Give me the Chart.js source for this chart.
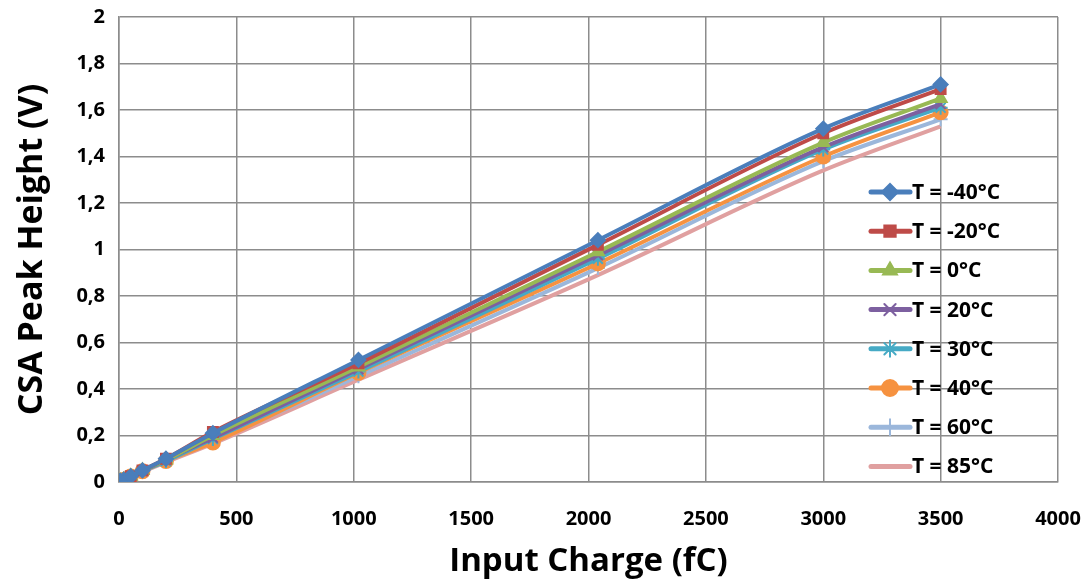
<!DOCTYPE html>
<html>
<head>
<meta charset="utf-8">
<title>CSA Peak Height vs Input Charge</title>
<script src="https://cdn.jsdelivr.net/npm/chart.js@4/dist/chart.umd.min.js"></script>
<style>
    html, body { margin: 0; padding: 0; background: #fff; }
    #chartWrap { width: 1089px; height: 585px; position: relative; }
</style>
</head>
<body>
<div id="chartWrap"><canvas id="peakChart"></canvas></div>
<script>
// Input charge values (fC)
const inputCharge = [5, 20, 50, 100, 200, 400, 1020, 2040, 3000, 3500];

// Series labels
const tempLabels = ['T = -40°C', 'T = -20°C', 'T = 0°C', 'T = 20°C', 'T = 30°C', 'T = 40°C', 'T = 60°C', 'T = 85°C'];

// CSA peak height (V) per temperature
const peakM40 = [0.005, 0.01, 0.025, 0.05, 0.10, 0.21, 0.525, 1.04, 1.52, 1.71];
const peakM20 = [0.005, 0.01, 0.025, 0.05, 0.10, 0.215, 0.51, 1.02, 1.50, 1.69];
const peak0   = [0.005, 0.01, 0.025, 0.05, 0.095, 0.20, 0.495, 0.99, 1.46, 1.65];
const peak20  = [0.005, 0.01, 0.024, 0.048, 0.095, 0.19, 0.485, 0.975, 1.44, 1.625];
const peak30  = [0.005, 0.01, 0.024, 0.047, 0.09, 0.185, 0.475, 0.96, 1.43, 1.61];
const peak40  = [0.005, 0.01, 0.024, 0.046, 0.09, 0.17, 0.47, 0.94, 1.40, 1.59];
const peak60  = [0.005, 0.01, 0.023, 0.045, 0.09, 0.175, 0.455, 0.92, 1.38, 1.56];
const peak85  = [0.004, 0.009, 0.022, 0.044, 0.085, 0.165, 0.44, 0.89, 1.34, 1.53];

// Axis ticks
const xTicks = [0, 500, 1000, 1500, 2000, 2500, 3000, 3500, 4000];
const yTicks = [0, 0.2, 0.4, 0.6, 0.8, 1, 1.2, 1.4, 1.6, 1.8, 2];

const seriesValues = [peakM40, peakM20, peak0, peak20, peak30, peak40, peak60, peak85];
const seriesColors = ['#4A7EBB', '#BE4B48', '#98B954', '#7D60A0', '#46AAC5', '#F69240', '#9BB7DB', '#E0A0A0'];
const seriesMarkers = ['rectRot', 'rect', 'triangle', 'crossRot', 'star', 'circle', 'cross', false];

const FONT = "'Open Sans', 'Liberation Sans', sans-serif";

document.addEventListener('DOMContentLoaded', function() {
    initializeChart();
});

function buildDatasets() {
    return seriesValues.map((values, i) => ({
        label: tempLabels[i],
        data: values.map((v, k) => ({ x: inputCharge[k], y: v })),
        borderColor: seriesColors[i],
        backgroundColor: seriesColors[i],
        borderWidth: 4,
        pointStyle: seriesMarkers[i],
        pointRadius: seriesMarkers[i] ? 7 : 0,
        pointBorderWidth: 2,
        pointBorderColor: seriesColors[i],
        pointBackgroundColor: seriesColors[i],
        cubicInterpolationMode: 'monotone',
        fill: false
    }));
}

// Excel-like legend drawn over the plot area
const overlayLegend = {
    id: 'overlayLegend',
    afterDraw(chart) {
        const ctx = chart.ctx;
        ctx.save();
        chart.data.datasets.forEach((ds, i) => {
            const y = 192 + i * 39.2;
            ctx.strokeStyle = ds.borderColor;
            ctx.lineWidth = 5;
            ctx.lineCap = 'round';
            ctx.beginPath();
            ctx.moveTo(871, y);
            ctx.lineTo(910, y);
            ctx.stroke();
            if (ds.pointStyle) {
                ctx.fillStyle = ds.backgroundColor;
                ctx.lineWidth = 2;
                Chart.helpers.drawPoint(ctx, { pointStyle: ds.pointStyle, radius: 8, rotation: 0, borderWidth: 2 }, 890, y);
            }
            ctx.fillStyle = '#000';
            ctx.font = 'bold 21px ' + FONT;
            ctx.textAlign = 'left';
            ctx.textBaseline = 'middle';
            ctx.fillText(ds.label, 912, y + 1);
        });
        ctx.restore();
    }
};

function initializeChart() {
    const ctx = document.getElementById('peakChart');
    new Chart(ctx, {
        type: 'line',
        data: { datasets: buildDatasets() },
        options: {
            responsive: true,
            maintainAspectRatio: false,
            animation: false,
            layout: { padding: { top: 17, right: 31, left: 0, bottom: 0 } },
            plugins: {
                legend: { display: false },
                tooltip: { enabled: false }
            },
            scales: {
                x: {
                    type: 'linear',
                    min: 0,
                    max: 4000,
                    afterBuildTicks: scale => { scale.ticks = xTicks.map(v => ({ value: v })); },
                    afterFit: scale => {
                        scale.height = 103;
                        scale.paddingLeft = 0;
                        scale.paddingRight = 0;
                    },
                    grid: { color: '#8C8C8C', lineWidth: 1.5, drawTicks: false },
                    border: { color: '#8C8C8C', width: 1.5 },
                    ticks: {
                        color: '#000',
                        padding: 25,
                        font: { family: FONT, size: 20, weight: 'bold' },
                        callback: value => String(value)
                    },
                    title: {
                        display: true,
                        text: 'Input Charge (fC)',
                        color: '#000',
                        padding: { top: 4, bottom: 4 },
                        font: { family: FONT, size: 33, weight: 'bold' }
                    }
                },
                y: {
                    min: 0,
                    max: 2,
                    afterBuildTicks: scale => { scale.ticks = yTicks.map(v => ({ value: v })); },
                    afterFit: scale => {
                        scale.width = 119;
                        scale.paddingTop = 0;
                        scale.paddingBottom = 0;
                    },
                    grid: { color: '#8C8C8C', lineWidth: 1.5, drawTicks: false },
                    border: { color: '#8C8C8C', width: 1.5 },
                    ticks: {
                        color: '#000',
                        padding: 14,
                        font: { family: FONT, size: 20, weight: 'bold' },
                        callback: value => String(Math.round(value * 10) / 10).replace('.', ',')
                    },
                    title: {
                        display: true,
                        text: 'CSA Peak Height (V)',
                        color: '#000',
                        padding: { top: 12, bottom: 0 },
                        font: { family: FONT, size: 34, weight: 'bold' }
                    }
                }
            }
        },
        plugins: [overlayLegend]
    });
}
</script>
</body>
</html>
